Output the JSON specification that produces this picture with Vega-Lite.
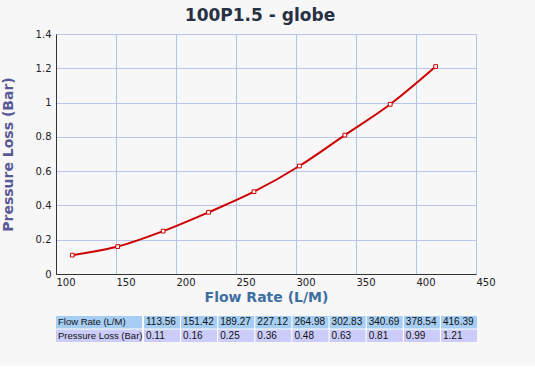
{
  "$schema": "https://vega.github.io/schema/vega-lite/v6.json",
  "background": "#f7f7f7",
  "padding": {"left": 0, "top": 6, "right": 40, "bottom": 24},
  "config": {"font": "DejaVu Sans", "view": {"stroke": null}},
  "datasets": {
    "d": [
      {"flow": 113.56, "loss": 0.11},
      {"flow": 151.42, "loss": 0.16},
      {"flow": 189.27, "loss": 0.25},
      {"flow": 227.12, "loss": 0.36},
      {"flow": 264.98, "loss": 0.48},
      {"flow": 302.83, "loss": 0.63},
      {"flow": 340.69, "loss": 0.81},
      {"flow": 378.54, "loss": 0.99},
      {"flow": 416.39, "loss": 1.21}
    ],
    "labels": [
      {"key": "flow", "row": "Flow Rate (L/M)"},
      {"key": "loss", "row": "Pressure Loss (Bar)"}
    ]
  },
  "spacing": 11,
  "vconcat": [
    {
      "width": 420,
      "height": 240,
      "title": {"text": "100P1.5 - globe", "fontSize": 17, "fontWeight": "bold", "color": "#283044", "dx": -6, "offset": 4},
      "view": {"stroke": "#a9bfdd"},
      "data": {"name": "d"},
      "encoding": {
        "x": {
          "field": "flow", "type": "quantitative",
          "scale": {"domain": [100, 450], "nice": false, "zero": false},
          "axis": {
            "title": "Flow Rate (L/M)", "values": [100, 150, 200, 250, 300, 350, 400, 450],
            "labelAlign": "left", "labelFlush": false, "labelPadding": 3, "ticks": false,
            "domainColor": "#333333", "gridColor": "#a9c9ea", "labelFontSize": 10, "labelColor": "#222222",
            "titleFontSize": 14, "titleColor": "#3f6fa0", "titleFontWeight": "bold", "titlePadding": 3
          }
        },
        "y": {
          "field": "loss", "type": "quantitative",
          "scale": {"domain": [0, 1.4], "nice": false},
          "axis": {
            "title": "Pressure Loss (Bar)", "values": [0, 0.2, 0.4, 0.6, 0.8, 1, 1.2, 1.4], "format": "~g",
            "ticks": false, "labelPadding": 5, "domainColor": "#333333", "gridColor": "#bcc4ee",
            "labelFontSize": 10, "labelColor": "#222222",
            "titleFontSize": 14, "titleColor": "#5a5a96", "titleFontWeight": "bold", "titlePadding": 20
          }
        }
      },
      "layer": [
        {"mark": {"type": "line", "color": "#cc0000", "strokeWidth": 2, "interpolate": "monotone"}},
        {"mark": {"type": "point", "shape": "square", "filled": true, "fill": "#ffffff", "stroke": "#cc0000", "strokeWidth": 1, "size": 14, "opacity": 1}}
      ]
    },
    {
      "spacing": 1,
      "hconcat": [
        {
          "width": 86,
          "height": 26,
          "view": {"fill": "#ffffff"},
          "data": {"name": "labels"},
          "encoding": {
            "x": {"datum": "label", "type": "nominal", "bandPosition": 0, "axis": null, "scale": {"paddingInner": 0, "paddingOuter": 0}},
            "y": {"field": "key", "type": "nominal", "axis": null, "scale": {"domain": ["flow", "loss"], "paddingInner": 0.08, "paddingOuter": 0}}
          },
          "layer": [
            {"mark": {"type": "rect"}, "encoding": {"x": {"datum": "label", "type": "nominal", "axis": null}, "color": {"field": "key", "type": "nominal", "scale": {"domain": ["flow", "loss"], "range": ["#a6cdf3", "#ccccfa"]}, "legend": null}}},
            {"mark": {"type": "text", "align": "left", "dx": 2, "font": "Liberation Sans", "fontSize": 9.5, "color": "#111111"}, "encoding": {"text": {"field": "row"}}}
          ]
        },
        {
          "width": 333,
          "height": 26,
          "view": {"fill": "#ffffff"},
          "data": {"name": "d"},
          "transform": [{"fold": ["flow", "loss"], "as": ["key", "value"]}],
          "encoding": {
            "x": {"field": "flow", "type": "ordinal", "axis": null, "scale": {"paddingInner": 0.03, "paddingOuter": 0}},
            "y": {"field": "key", "type": "nominal", "axis": null, "scale": {"domain": ["flow", "loss"], "paddingInner": 0.08, "paddingOuter": 0}}
          },
          "layer": [
            {"mark": {"type": "rect"}, "encoding": {"color": {"field": "key", "type": "nominal", "scale": {"domain": ["flow", "loss"], "range": ["#a6cdf3", "#ccccfa"]}, "legend": null}}},
            {"mark": {"type": "text", "align": "left", "dx": 2, "font": "Liberation Sans", "fontSize": 10, "color": "#111111"}, "encoding": {"x": {"field": "flow", "type": "ordinal", "bandPosition": 0, "axis": null}, "text": {"field": "value", "type": "quantitative", "format": ".2f"}}}
          ]
        }
      ]
    }
  ]
}
